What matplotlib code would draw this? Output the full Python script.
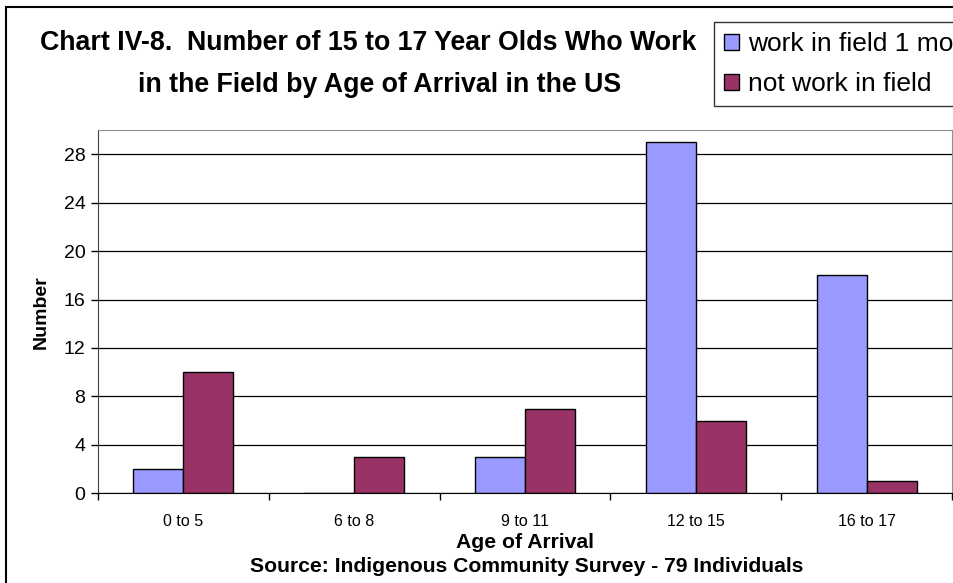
import numpy as np
import matplotlib.pyplot as plt
from matplotlib.patches import Rectangle

plt.rcParams['font.family'] = ['Liberation Sans', 'DejaVu Sans']

categories = ['0 to 5', '6 to 8', '9 to 11', '12 to 15', '16 to 17']
work_field = [2, 0, 3, 29, 18]
not_work = [10, 3, 7, 6, 1]
series_names = ['work in field 1 month or more', 'not work in field']
colors = ['#9999FF', '#993366']

fig = plt.figure(figsize=(9.54, 5.83), dpi=100)
ax = fig.add_axes([98/954, 1 - 493.3/583, (952-98)/954, (493.3-130)/583])

x = np.arange(len(categories))
w = 0.293
ax.bar(x - w/2, work_field, w, color=colors[0], edgecolor='black', linewidth=1, label=series_names[0])
ax.bar(x + w/2, not_work, w, color=colors[1], edgecolor='black', linewidth=1, label=series_names[1])

ax.set_ylim(0, 30)
ax.set_xlim(-0.5, len(categories) - 0.5)
ax.set_yticks(range(0, 29, 4))
ax.yaxis.grid(True, color='black', linewidth=0.9)
ax.set_axisbelow(True)

# category ticks sit on the boundaries
ax.set_xticks(np.arange(-0.5, len(categories), 1))
ax.set_xticklabels([])
ax.set_xticks(x, minor=True)
ax.set_xticklabels(categories, minor=True, fontsize=11.5)
ax.tick_params(axis='x', which='minor', length=0, pad=15)
ax.tick_params(axis='x', which='major', length=5, width=1, direction='out')
ax.tick_params(axis='y', length=5, width=1, labelsize=14, pad=4)

for s in ['top', 'right']:
    ax.spines[s].set_color('#909090')
ax.spines['left'].set_color('#404040')
ax.spines['bottom'].set_color('black')

ax.set_ylabel('Number', fontsize=14, fontweight='bold', labelpad=10)
ax.set_xlabel('Age of Arrival', fontsize=15.2, fontweight='bold', labelpad=3)
fig.text(527/954, 1 - 567/583, 'Source: Indigenous Community Survey - 79 Individuals',
         ha='center', va='center', fontsize=15.2, fontweight='bold')

fig.text(368/954, 1 - 43/583, 'Chart IV-8.  Number of 15 to 17 Year Olds Who Work',
         ha='center', va='center', fontsize=19.3, fontweight='bold')
fig.text(380/954, 1 - 85/583, 'in the Field by Age of Arrival in the US',
         ha='center', va='center', fontsize=19.3, fontweight='bold')

# outer chart frame (runs off the right and bottom edges)
fig.patches.append(Rectangle((6/954, -0.1), 1.2, 1 - 7/583 + 0.1, transform=fig.transFigure,
                             fill=False, edgecolor='black', linewidth=1.5))

leg = fig.legend(loc='upper left', bbox_to_anchor=(714/954, 1 - 22/583), fontsize=19,
                 frameon=True, fancybox=False, edgecolor='black', handlelength=0.55,
                 handleheight=0.55, handletextpad=0.35, labelspacing=0.62, borderpad=0.38,
                 borderaxespad=0)
leg.get_frame().set_linewidth(1)

fig.savefig('out.png', dpi=100)
